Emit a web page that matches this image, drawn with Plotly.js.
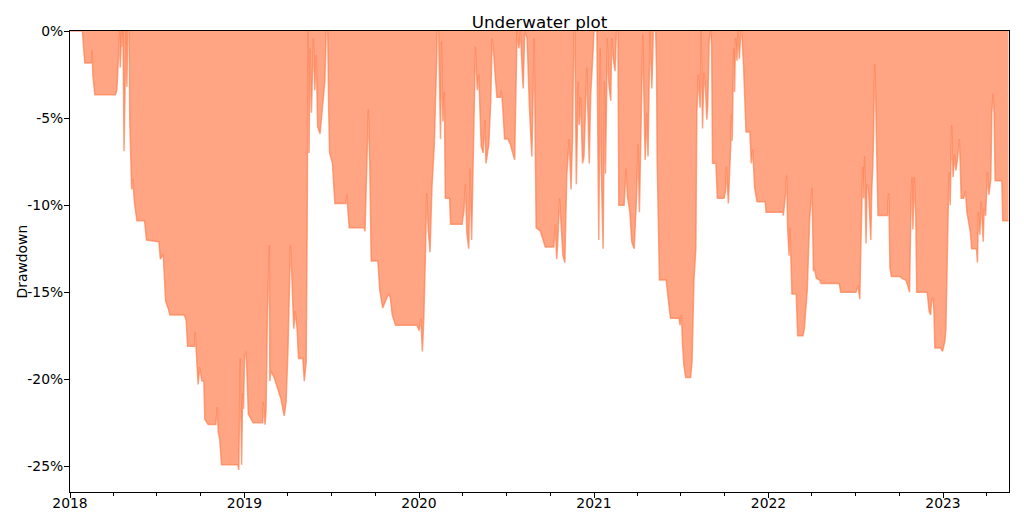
<!DOCTYPE html>
<html>
<head>
<meta charset="utf-8">
<script src="https://cdn.plot.ly/plotly-3.0.1.min.js"></script>
<style>
  html, body { margin: 0; padding: 0; background: #fff; }
  #chart { width: 1024px; height: 524px; }
</style>
</head>
<body>
<div id="chart"></div>
<script>
// Drawdown (%)
const dates = [
 '2018-01-01','2018-01-27','2018-01-29','2018-02-01','2018-02-15','2018-02-16','2018-02-18','2018-02-22','2018-04-06','2018-04-09',
 '2018-04-12','2018-04-15','2018-04-16','2018-04-19','2018-04-20','2018-04-22','2018-04-24','2018-04-26','2018-04-28','2018-04-30',
 '2018-05-02','2018-05-05','2018-05-06','2018-05-10','2018-05-12','2018-05-16','2018-05-21','2018-06-06','2018-06-10','2018-07-06',
 '2018-07-09','2018-07-15','2018-07-20','2018-07-25','2018-07-29','2018-08-28','2018-09-01','2018-09-04','2018-09-19','2018-09-20',
 '2018-09-26','2018-09-29','2018-10-04','2018-10-08','2018-10-10','2018-10-17','2018-11-02','2018-11-05','2018-11-07','2018-11-10',
 '2018-11-14','2018-12-18','2018-12-20','2018-12-23','2018-12-26','2018-12-28','2018-12-30','2019-01-01','2019-01-04','2019-01-06',
 '2019-01-09','2019-01-19','2019-02-08','2019-02-09','2019-02-13','2019-02-15','2019-02-18','2019-02-22','2019-02-23','2019-02-25',
 '2019-03-04','2019-03-11','2019-03-18','2019-03-25','2019-03-29','2019-04-02','2019-04-07','2019-04-09','2019-04-14','2019-04-17',
 '2019-04-21','2019-04-24','2019-05-03','2019-05-06','2019-05-10','2019-05-12','2019-05-14','2019-05-16','2019-05-18','2019-05-21',
 '2019-05-25','2019-05-28','2019-05-31','2019-06-03','2019-06-08','2019-06-13','2019-06-18','2019-06-21','2019-06-24','2019-06-26',
 '2019-06-28','2019-07-04','2019-07-09','2019-08-01','2019-08-03','2019-08-08','2019-09-08','2019-09-10','2019-09-17','2019-09-20',
 '2019-09-23','2019-10-07','2019-10-11','2019-10-17','2019-10-29','2019-11-02','2019-11-06','2019-11-13','2019-12-28','2020-01-01',
 '2020-01-05','2020-01-08','2020-01-11','2020-01-15','2020-01-17','2020-01-20','2020-01-24','2020-01-28','2020-02-02','2020-02-07',
 '2020-02-08','2020-02-11','2020-02-15','2020-02-17','2020-02-20','2020-02-23','2020-02-25','2020-03-05','2020-03-07','2020-03-31',
 '2020-04-04','2020-04-07','2020-04-10','2020-04-14','2020-04-17','2020-04-20','2020-04-25','2020-04-28','2020-05-02','2020-05-05',
 '2020-05-10','2020-05-14','2020-05-18','2020-05-20','2020-05-26','2020-05-30','2020-06-02','2020-06-05','2020-06-09','2020-06-12',
 '2020-06-19','2020-06-21','2020-06-24','2020-06-28','2020-07-05','2020-07-10','2020-07-19','2020-07-24','2020-07-28','2020-07-31',
 '2020-08-04','2020-08-06','2020-08-09','2020-08-14','2020-08-19','2020-08-24','2020-08-29','2020-09-02','2020-09-11','2020-09-19',
 '2020-09-21','2020-10-09','2020-10-12','2020-10-15','2020-10-17','2020-10-21','2020-10-23','2020-10-28','2020-11-01','2020-11-05',
 '2020-11-10','2020-11-14','2020-11-17','2020-11-20','2020-11-22','2020-11-25','2020-11-29','2020-12-01','2020-12-04','2020-12-08',
 '2020-12-11','2020-12-17','2020-12-22','2020-12-25','2020-12-29','2021-01-01','2021-01-07','2021-01-11','2021-01-14','2021-01-16',
 '2021-01-20','2021-01-23','2021-01-25','2021-01-29','2021-02-01','2021-02-05','2021-02-07','2021-02-10','2021-02-14','2021-02-17',
 '2021-02-20','2021-02-22','2021-03-05','2021-03-09','2021-03-12','2021-03-17','2021-03-21','2021-03-26','2021-03-31','2021-04-03',
 '2021-04-06','2021-04-09','2021-04-13','2021-04-18','2021-04-21','2021-04-24','2021-04-28','2021-05-02','2021-05-05','2021-05-10',
 '2021-05-12','2021-05-13','2021-05-16','2021-05-18','2021-06-01','2021-06-04','2021-06-07','2021-06-10','2021-06-28','2021-06-30',
 '2021-07-03','2021-07-05','2021-07-08','2021-07-12','2021-07-22','2021-07-25','2021-07-29','2021-08-02','2021-08-04','2021-08-07',
 '2021-08-11','2021-08-13','2021-08-16','2021-08-19','2021-08-22','2021-08-25','2021-08-27','2021-08-30','2021-09-02','2021-09-04',
 '2021-09-06','2021-09-13','2021-09-16','2021-09-30','2021-10-03','2021-10-05','2021-10-09','2021-10-14','2021-10-15','2021-10-17',
 '2021-10-20','2021-10-22','2021-10-24','2021-10-27','2021-10-29','2021-11-01','2021-11-04','2021-11-06','2021-11-10','2021-11-15',
 '2021-11-23','2021-11-26','2021-11-29','2021-12-03','2021-12-08','2021-12-25','2021-12-27','2022-01-31','2022-02-01','2022-02-05',
 '2022-02-08','2022-02-10','2022-02-13','2022-02-15','2022-02-19','2022-02-28','2022-03-03','2022-03-14','2022-03-17','2022-03-19',
 '2022-03-23','2022-03-28','2022-04-02','2022-04-05','2022-04-07','2022-04-11','2022-04-18','2022-04-21','2022-05-29','2022-06-01',
 '2022-07-03','2022-07-07','2022-07-11','2022-07-12','2022-07-15','2022-07-17','2022-07-19','2022-07-21','2022-07-24','2022-07-26',
 '2022-07-29','2022-08-01','2022-08-03','2022-08-05','2022-08-07','2022-08-09','2022-08-11','2022-08-13','2022-08-15','2022-08-18',
 '2022-09-07','2022-09-09','2022-09-10','2022-09-12','2022-09-15','2022-10-03','2022-10-07','2022-10-15','2022-10-19','2022-10-23',
 '2022-10-26','2022-10-28','2022-10-30','2022-11-02','2022-11-05','2022-11-07','2022-11-29','2022-12-03','2022-12-06','2022-12-08',
 '2022-12-11','2022-12-13','2022-12-15','2022-12-27','2022-12-31','2023-01-05','2023-01-07','2023-01-09','2023-01-12','2023-01-14',
 '2023-01-16','2023-01-19','2023-01-22','2023-01-25','2023-01-28','2023-01-31','2023-02-04','2023-02-06','2023-02-08','2023-02-13',
 '2023-02-17','2023-02-20','2023-02-24','2023-02-27','2023-03-02','2023-03-12','2023-03-14','2023-03-16','2023-03-19','2023-03-22',
 '2023-03-26','2023-03-28','2023-03-31','2023-04-04','2023-04-07','2023-04-11','2023-04-13','2023-04-16','2023-04-18','2023-04-20',
 '2023-05-04','2023-05-06','2023-05-18'
];
const drawdown = [
 0,0,-0.8,-1.84,-1.84,-1.1,-2.6,-3.66,-3.66,-3.4,
 -1.7,0,-2.1,0,-0.9,0,-6.9,-1.7,0,-3.2,
 0,0,-5.1,-9.1,-8.5,-9.9,-10.9,-10.9,-12.0,-12.1,
 -13.1,-12.8,-15.5,-15.9,-16.3,-16.3,-16.6,-18.1,-18.1,-17.3,
 -20.3,-19.3,-20.1,-20.1,-22.3,-22.6,-22.6,-21.6,-23.0,-23.4,
 -24.9,-24.9,-25.2,-18.8,-24.9,-20.8,-21.7,-18.7,-18.4,-19.5,
 -22.0,-22.5,-22.5,-21.3,-22.6,-21.8,-16.1,-12.3,-20.1,-19.5,
 -19.9,-20.5,-21.1,-22.1,-21.3,-18.2,-12.3,-13.3,-17.1,-16.1,
 -17.1,-18.8,-18.8,-20.1,-19.0,-11.3,0,-7.0,-1.0,-4.7,
 -0.4,-3.4,-1.4,-5.5,-5.9,-4.4,-2.9,0,0,-4.4,
 -7.0,-7.6,-9.9,-9.9,-9.4,-11.3,-11.3,-11.5,-4.5,-7.6,
 -13.2,-13.2,-14.9,-15.9,-15.1,-15.3,-16.3,-16.9,-16.9,-17.2,
 -16.5,-18.4,-16.5,-12.1,-9.3,-11.3,-12.7,-9.0,-6.5,-1.5,
 0,0,-6.2,-0.6,-5.2,-3.5,-9.6,-9.6,-11.1,-11.1,
 -10.3,-8.8,-11.6,-12.5,-7.9,-12.0,-5.8,-0.9,-3.4,-2.5,
 -6.6,-7.0,-5.1,-7.6,-6.5,-4.0,-0.4,-1.2,-2.8,-3.8,
 -3.8,-3.4,-4.3,-6.2,-6.2,-6.5,-7.4,0,-1.0,0,
 -2.4,-3.3,0,-0.4,-4.4,-7.2,-0.4,-11.3,-11.5,-12.3,
 -12.4,-12.4,-11.1,-13.1,-12.2,-9.6,-10.7,-12.9,-13.3,-8.3,
 -6.2,-9.1,-6.2,0,0,-8.8,-2.9,-5.4,-3.8,-7.6,
 -7.2,-2.1,-7.6,-3.7,-1.7,0,0,-12.0,-1.0,-7.6,
 -12.5,-2.9,-8.2,-0.4,-3.0,-4.0,-0.4,-1.5,-2.3,0,
 0,-10.0,-10.0,-7.9,-9.5,-10.4,-12.1,-12.5,-9.5,-6.5,
 -10.4,-6.7,-0.2,-7.4,-4.7,-7.2,0,-3.3,0,0,
 -2.5,-7.2,-11.7,-14.3,-14.3,-15.2,-15.8,-16.5,-16.5,-16.9,
 -16.3,-17.9,-19.2,-19.9,-19.9,-19.0,-14.3,-12.5,-4.7,-2.5,
 -4.4,0,-5.6,-2.4,-3.2,-5.1,-4.2,-0.4,0,-0.8,
 -7.6,-7.6,-9.6,-9.6,-9.2,-7.8,-9.9,-6.5,-4.8,-6.3,
 -1.0,-3.5,-0.4,-1.7,0,-1.6,0,0,-2.1,-5.8,
 -5.8,-7.6,-6.8,-9.0,-9.8,-9.8,-10.4,-10.4,-10.6,-9.5,
 -8.3,-11.3,-12.9,-11.3,-15.1,-15.1,-17.5,-17.5,-17.1,-16.3,
 -14.9,-10.8,-9.0,-13.8,-13.6,-14.2,-14.3,-14.5,-14.5,-15.0,
 -15.0,-14.6,-15.4,-13.8,-10.6,-7.8,-9.6,-7.2,-12.2,-8.8,
 -9.0,-11.4,-12.0,-9.1,-7.9,-5.6,-1.9,-3.7,-6.0,-10.6,
 -10.6,-9.3,-9.8,-13.6,-14.1,-14.1,-14.2,-14.3,-14.6,-15.0,
 -9.9,-8.4,-11.4,-8.4,-10.6,-15.0,-15.0,-16.1,-16.3,-15.5,
 -15.3,-16.1,-18.2,-18.2,-18.4,-17.8,-17.1,-13.2,-10.0,-8.1,
 -10.0,-5.4,-8.4,-7.1,-8.0,-7.4,-6.2,-7.6,-9.6,-9.6,
 -9.2,-10.4,-11.1,-11.5,-12.5,-12.5,-13.3,-10.4,-11.7,-9.8,
 -12.1,-10.2,-10.6,-8.1,-9.4,-8.5,-4.7,-3.6,-4.8,-8.6,
 -8.6,-10.9,-10.9
];
const yTickVals = [0, -5, -10, -15, -20, -25];
const yTickText = ['0%', '-5%', '-10%', '-15%', '-20%', '-25%'];
const xTickVals = ['2018-01-01', '2019-01-01', '2020-01-01', '2021-01-01', '2022-01-01', '2023-01-01'];
const xTickText = ['2018', '2019', '2020', '2021', '2022', '2023'];
const yLabel = 'Drawdown';
const chartTitle = 'Underwater plot';

const trace = {
  type: 'scatter',
  mode: 'lines',
  x: dates,
  y: drawdown,
  fill: 'tozeroy',
  fillcolor: 'rgba(255,127,80,0.7)',
  line: { color: 'rgba(255,127,80,0.7)', width: 1.5, shape: 'linear' },
  hoverinfo: 'skip'
};

const font = 'DejaVu Sans, sans-serif';
const layout = {
  width: 1024,
  height: 524,
  margin: { l: 70, r: 15, t: 31, b: 32, pad: 0 },
  paper_bgcolor: '#ffffff',
  plot_bgcolor: '#ffffff',
  showlegend: false,
  font: { family: font, size: 13.9, color: '#000000' },
  title: {
    text: chartTitle,
    font: { family: font, size: 16.7, color: '#000000' },
    x: 0.5, xref: 'paper', xanchor: 'center',
    y: 1 - 22 / 524, yref: 'container', yanchor: 'middle'
  },
  xaxis: {
    type: 'date',
    range: ['2018-01-01', '2023-05-19'],
    tickmode: 'array',
    tickvals: xTickVals,
    ticktext: xTickText,
    ticks: 'outside', ticklen: 5, tickwidth: 1, tickcolor: '#000',
    ticklabelstandoff: -7,
    showgrid: false, zeroline: false,
    showline: true, linecolor: '#000', linewidth: 1, mirror: true,
    tickfont: { family: font, size: 13.9, color: '#000' },
    minor: { dtick: 'M3', tick0: '2018-01-01', ticks: 'outside', ticklen: 3, tickwidth: 1, tickcolor: '#000', showgrid: false }
  },
  yaxis: {
    range: [-26.47, 0],
    tickmode: 'array',
    tickvals: yTickVals,
    ticktext: yTickText,
    ticks: 'outside', ticklen: 5, tickwidth: 1, tickcolor: '#000',
    ticklabelstandoff: -2,
    showgrid: false, zeroline: false,
    showline: true, linecolor: '#000', linewidth: 1, mirror: true,
    tickfont: { family: font, size: 13.9, color: '#000' }
  },
  annotations: [{
    text: yLabel,
    xref: 'paper', yref: 'paper',
    x: (21 - 70) / 939, y: 0.5,
    xanchor: 'center', yanchor: 'middle',
    textangle: -90, showarrow: false,
    font: { family: font, size: 13.9, color: '#000' }
  }]
};

Plotly.newPlot('chart', [trace], layout, { staticPlot: true, displayModeBar: false });
</script>
</body>
</html>
